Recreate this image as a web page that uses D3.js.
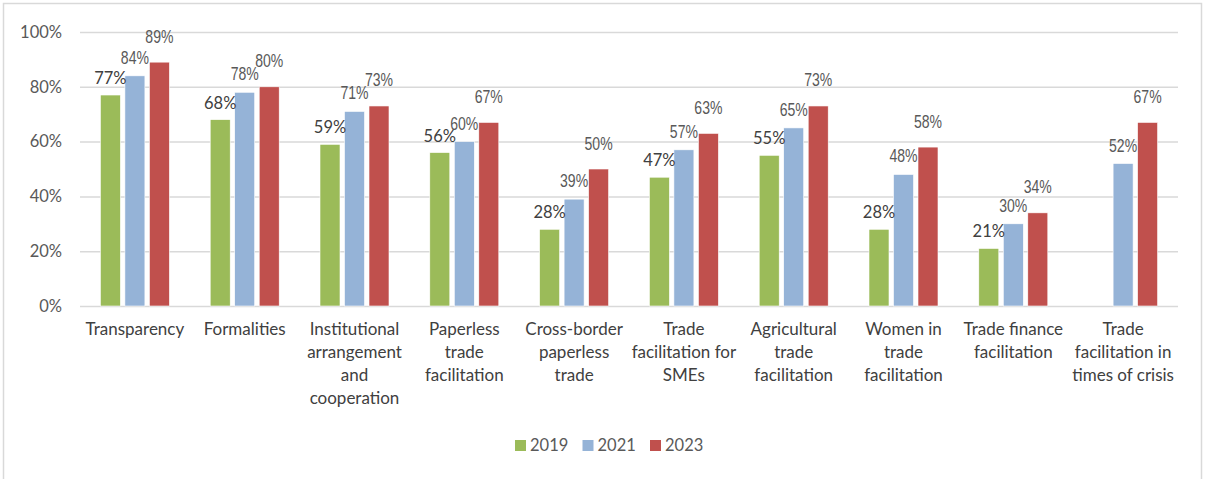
<!DOCTYPE html>
<html>
<head>
<meta charset="utf-8">
<script src="https://cdn.jsdelivr.net/npm/d3@7"></script>
<style>
  body { margin: 0; background: #fff; }
  svg { display: block; font-family: Lato, "Noto Sans", sans-serif; }
</style>
</head>
<body>
<div id="chart"></div>
<script>
var width = 1207;
var height = 479;

// categories, "|" marks a line break in the axis label
var categories = [
  'Transparency',
  'Formalities',
  'Institutional|arrangement|and|cooperation',
  'Paperless|trade|facilitation',
  'Cross-border|paperless|trade',
  'Trade|facilitation for|SMEs',
  'Agricultural|trade|facilitation',
  'Women in|trade|facilitation',
  'Trade finance|facilitation',
  'Trade|facilitation in|times of crisis'
];
var years = ['2019', '2021', '2023'];
var values2019 = [77, 68, 59, 56, 28, 47, 55, 28, 21, null];
var values2021 = [84, 78, 71, 60, 39, 57, 65, 48, 30, 52];
var values2023 = [89, 80, 73, 67, 50, 63, 73, 58, 34, 67];
var yTicks = [0, 20, 40, 60, 80, 100];

var colors = ['#9bbb59', '#95b3d7', '#c0504d'];
var series = [values2019, values2021, values2023];

var svg = d3.select('#chart').append('svg')
  .attr('width', width)
  .attr('height', height);

// outer frame
svg.append('rect')
  .attr('x', 3.5).attr('y', 3.5)
  .attr('width', 1198).attr('height', 490)
  .attr('fill', 'none')
  .attr('stroke', '#d9d9d9')
  .attr('stroke-width', 1.5);

var x = d3.scaleBand()
  .domain(d3.range(categories.length))
  .range([80, 1178]);

var y = d3.scaleLinear()
  .domain([0, 100])
  .range([306, 32]);

// offsets of each series' bar centre inside a category
var sub = d3.scalePoint()
  .domain(years)
  .range([-24.5, 24.5]);
var barW = 20;

// gridlines + y labels
var yAxis = svg.append('g')
  .attr('transform', 'translate(80,0)')
  .call(d3.axisLeft(y).tickValues(yTicks).tickSize(-1098).tickPadding(18)
    .tickFormat(function(d) { return d + '%'; }));
yAxis.select('.domain').remove();
yAxis.selectAll('line').attr('stroke', '#d9d9d9').attr('stroke-width', 1.5);
yAxis.selectAll('text')
  .attr('fill', '#595959')
  .style('font-size', '16.5px')
  .style('font-family', 'Lato, sans-serif');

// bars
years.forEach(function(yr, s) {
  var vals = series[s];
  var g = svg.append('g');
  g.selectAll('rect')
    .data(vals.map(function(v, i) { return {v: v, i: i}; }).filter(function(d) { return d.v != null; }))
    .enter().append('rect')
    .attr('x', function(d) { return x(d.i) + x.bandwidth() / 2 + sub(yr) - barW / 2; })
    .attr('y', function(d) { return y(d.v); })
    .attr('width', barW)
    .attr('height', function(d) { return y(0) - y(d.v); })
    .attr('fill', colors[s])
    .attr('stroke', '#fff')
    .attr('stroke-width', 0.6);
});

// data labels (2019 in the regular font, later years squeezed like the original)
var labelGap = [11, 12, 19.5];
years.forEach(function(yr, s) {
  var vals = series[s];
  var squeeze = s === 0 ? 1 : 0.78;
  svg.append('g').selectAll('text')
    .data(vals.map(function(v, i) { return {v: v, i: i}; }).filter(function(d) { return d.v != null; }))
    .enter().append('text')
    .attr('transform', function(d) {
      return 'translate(' + (x(d.i) + x.bandwidth() / 2 + sub(yr)) + ',' + (y(d.v) - labelGap[s]) + ') scale(' + squeeze + ',1)';
    })
    .attr('text-anchor', 'middle')
    .attr('fill', s === 0 ? '#404040' : '#595959')
    .style('font-size', s === 0 ? '16.5px' : '18px')
    .style('font-family', s === 0 ? 'Lato, sans-serif' : '"Liberation Sans", Arial, sans-serif')
    .text(function(d) { return d.v + '%'; });
});

// category labels
var xAxis = svg.append('g');
xAxis.selectAll('text')
  .data(categories)
  .enter().append('text')
  .attr('x', function(d, i) { return x(i) + x.bandwidth() / 2; })
  .attr('y', 335)
  .attr('text-anchor', 'middle')
  .attr('fill', '#404040')
  .style('font-size', '17px')
  .each(function(d) {
    var t = d3.select(this);
    d.split('|').forEach(function(line, k) {
      t.append('tspan')
        .attr('x', t.attr('x'))
        .attr('dy', k === 0 ? 0 : 23)
        .text(line);
    });
  });

// legend
var legend = svg.append('g').attr('transform', 'translate(515,440)');
var legX = d3.scalePoint().domain(years).range([0, 135]);
years.forEach(function(yr, s) {
  var item = legend.append('g').attr('transform', 'translate(' + legX(yr) + ',0)');
  item.append('rect')
    .attr('width', 11).attr('height', 11)
    .attr('fill', colors[s]);
  item.append('text')
    .attr('x', 15).attr('y', 11)
    .attr('fill', '#595959')
    .style('font-size', '16.5px')
    .text(yr);
});
</script>
</body>
</html>
